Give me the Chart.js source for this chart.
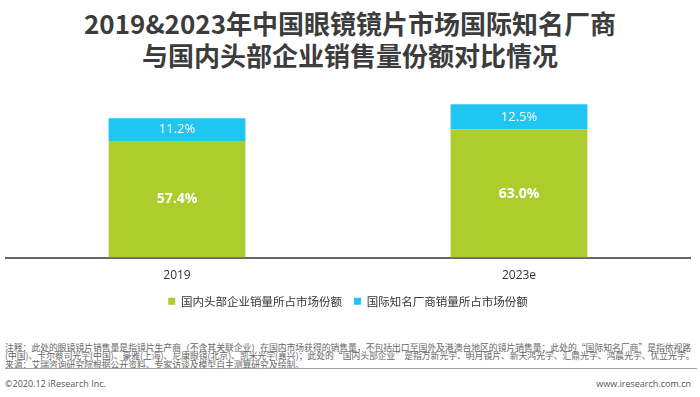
<!DOCTYPE html>
<html>
<head>
<meta charset="utf-8">
<script src="https://cdn.jsdelivr.net/npm/chart.js@4/dist/chart.umd.min.js"></script>
<style>
    body { margin: 0; background: #fff; width: 700px; height: 397px; overflow: hidden; position: relative; font-family: "Noto Sans CJK SC", "Open Sans", sans-serif; }
    #title { position: absolute; top: 7px; left: 0; width: 700px; text-align: center; font-size: 26px; line-height: 32px; font-weight: bold; color: #3c3c3c; }
    #chartBox { position: absolute; top: 80px; left: 0; width: 700px; height: 237px; }
    .note { position: absolute; left: 5px; font-size: 8.8px; line-height: 9px; color: #666; white-space: nowrap; }
    #rule { position: absolute; left: 5px; top: 367.5px; width: 692px; height: 0; border-top: 1.5px solid #a0a0a0; }
    .foot { position: absolute; top: 376.5px; font-size: 9px; color: #555; font-family: "Open Sans", sans-serif; }
</style>
</head>
<body>
<div id="title">2019&amp;2023年中国眼镜镜片市场国际知名厂商<br>与国内头部企业销售量份额对比情况</div>
<div id="chartBox"><canvas id="shareChart"></canvas></div>
<div class="note" style="top:342.5px">注释：此处的眼镜镜片销售量是指镜片生产商（不含其关联企业）在国内市场获得的销售量，不包括出口至国外及港澳台地区的镜片销售量；此处的“国际知名厂商”是指依视路</div>
<div class="note" style="top:351px">(中国)、卡尔蔡司光学(中国)、豪雅(上海)、尼康眼镜(北京)、凯米光学(嘉兴)；此处的“国内头部企业”是指万新光学、明月镜片、新天鸿光学、汇鼎光学、鸿晨光学、优立光学。</div>
<div class="note" style="top:359.5px">来源：艾瑞咨询研究院根据公开资料、专家访谈及模型自主测算研究及绘制。</div>
<div id="rule"></div>
<div class="foot" style="left:5px">©2020.12 iResearch Inc.</div>
<div class="foot" style="right:9px">www.iresearch.com.cn</div>
<script>
// values (share of sales volume, %)
const years = ["2019", "2023e"];
const domesticShare = [57.4, 63.0];
const internationalShare = [11.2, 12.5];
const seriesNames = ["国内头部企业销量所占市场份额", "国际知名厂商销量所占市场份额"];

// white % labels in the middle of each segment
const valueLabels = {
    id: "valueLabels",
    afterDatasetsDraw(chart) {
        const ctx = chart.ctx;
        chart.data.datasets.forEach((ds, i) => {
            const meta = chart.getDatasetMeta(i);
            meta.data.forEach((bar, j) => {
                ctx.save();
                ctx.fillStyle = "#fff";
                ctx.font = i === 0 ? "bold 14px 'Open Sans'" : "13px 'Open Sans'";
                ctx.textAlign = "center";
                ctx.textBaseline = "middle";
                ctx.fillText(ds.data[j].toFixed(1) + "%", bar.x, (bar.y + bar.base) / 2);
                ctx.restore();
            });
        });
    }
};

new Chart(document.getElementById("shareChart").getContext("2d"), {
    type: "bar",
    data: {
        labels: years,
        datasets: [
            {
                label: seriesNames[0],
                data: domesticShare,
                backgroundColor: "#adcd2e"
            },
            {
                label: seriesNames[1],
                data: internationalShare,
                backgroundColor: "#1ec6f1"
            }
        ]
    },
    options: {
        responsive: true,
        maintainAspectRatio: false,
        animation: false,
        barPercentage: 0.4,
        categoryPercentage: 1,
        layout: { padding: { left: 6, right: 10, top: 15, bottom: 0 } },
        scales: {
            x: {
                stacked: true,
                grid: { display: false, drawTicks: false, tickLength: 0 },
                border: { display: true, color: "#666666", width: 2 },
                ticks: { padding: 11, color: "#333", font: { size: 12, family: "'Open Sans'" } },
                // keep the axis box just tall enough for the year labels
                afterFit: (scale) => { scale.height = 26; }
            },
            y: {
                stacked: true,
                display: false,
                min: 0,
                max: 80
            }
        },
        plugins: {
            tooltip: { enabled: false },
            legend: {
                position: "bottom",
                labels: {
                    boxWidth: 7,
                    boxHeight: 7,
                    padding: 12,
                    color: "#333",
                    font: { size: 11.5, family: "'Noto Sans CJK SC'" }
                }
            }
        }
    },
    plugins: [valueLabels]
});
</script>
</body>
</html>
